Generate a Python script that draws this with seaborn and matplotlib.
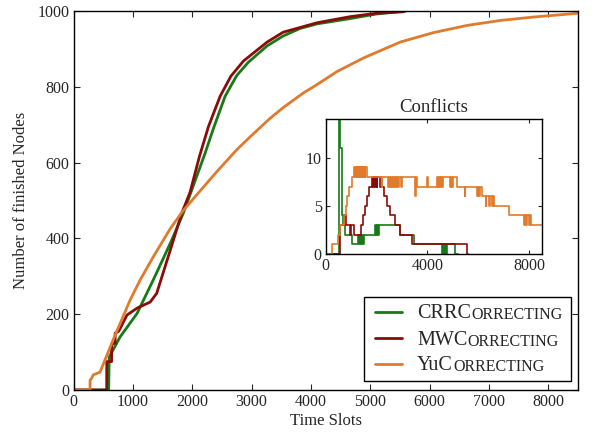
import matplotlib
matplotlib.use("Agg")
import matplotlib.pyplot as plt
from matplotlib.lines import Line2D
from matplotlib.patches import Rectangle
import seaborn as sns

# finished nodes over time (main plot)
crr_t = [0, 590, 600, 783, 1069, 1341, 1629, 1850, 2216, 2356, 2553, 2750, 2946,
         3261, 3531, 3818, 4104, 4661, 5100, 5600]
crr_v = [0, 0, 87, 140, 202, 290, 387, 467, 625, 690, 775, 830, 865,
         908, 934, 954, 966, 980, 992, 1000]

mw_t = [0, 558, 558, 640, 640, 700, 700, 760, 900, 1069, 1290, 1400, 1629, 1823,
        1963, 2120, 2272, 2469, 2650, 2862, 3261, 3531, 4104, 4661, 5100, 5560]
mw_v = [0, 0, 75, 75, 120, 124, 150, 155, 198, 216, 232, 255, 369, 467,
        522, 616, 695, 775, 828, 868, 918, 944, 969, 985, 994, 998]

yu_t = [0, 277, 277, 300, 330, 445, 665, 951, 1120, 1341, 1626, 1830, 2047, 2418,
        2750, 2975, 3312, 3531, 3874, 4104, 4436, 4885, 5504, 6065, 6634, 7190,
        7747, 8500]
yu_v = [0, 0, 26, 30, 40, 47, 132, 237, 290, 351, 425, 470, 510, 577,
        634, 668, 717, 745, 784, 806, 840, 876, 918, 943, 962, 975,
        984, 994]

# conflicts (inset), step values
crr_ct = [0, 540, 560, 640, 695, 762, 829, 1026, 1289, 1320, 1350, 1390, 1420, 1460,
          1490, 1947, 1980, 2010, 2060, 2090, 2934, 3460, 4579, 4610, 4650, 4690,
          4730, 4777, 5106, 5200]
crr_cv = [0, 25, 11, 4, 3, 2, 2, 1, 2, 1, 2, 1, 2, 1,
          2, 3, 2, 3, 2, 3, 2, 1, 0, 1, 0, 1,
          0, 1, 0, 0]

mw_ct = [0, 564, 735, 801, 960, 1000, 1105, 1380, 1460, 1540, 1620, 1720, 1830,
         1870, 1890, 1940, 1960, 2010, 2030, 2145, 2277, 2408, 2540, 2737, 2934,
         3395, 5560, 5600]
mw_cv = [0, 3, 4, 3, 2, 3, 2, 3, 4, 5, 6, 7, 8,
         7, 8, 7, 8, 7, 8, 7, 6, 5, 4, 3, 2,
         1, 0, 0]

yu_ct = [0, 235, 498, 564, 735, 801, 854, 933, 1026, 1117, 1160, 1180, 1230, 1250,
         1300, 1320, 1380, 1400, 1450, 1470, 1530, 1550, 1618, 2198, 2230, 2461,
         2500, 2540, 2580, 2620, 2660, 2700, 2740, 2780, 2820, 2860, 2900, 2950,
         3000, 3520, 3550, 3592, 3987, 4010, 4382, 4420, 4450, 4500, 4530, 4580,
         4610, 4908, 4940, 4980, 5010, 5172, 5462, 5490, 5961, 6000, 6050, 6090,
         6158, 6290, 6320, 6420, 6450, 6540, 6570, 6618, 7210, 7802, 7830, 7900,
         7930, 8000, 8030, 8066, 8500]
yu_cv = [0, 1, 2, 3, 4, 5, 6, 7, 8, 9, 8, 9, 8, 9,
         8, 9, 8, 9, 8, 9, 8, 9, 8, 7, 8, 7,
         8, 7, 8, 7, 8, 7, 8, 7, 8, 7, 8, 7,
         8, 6, 8, 7, 8, 7, 8, 7, 8, 7, 8, 7,
         8, 7, 8, 7, 8, 7, 6, 7, 6, 7, 6, 7,
         6, 5, 6, 5, 6, 5, 6, 5, 4, 3, 4, 3,
         4, 3, 4, 3, 3]

# legend names: capital prefix + "Correcting" in small caps
prefixes = ["CRRC", "MWC", "YuC"]
colors = ["#167a16", "#8b0a0a", "#e07a2c"]

sns.set_style("ticks")
plt.rcParams["font.family"] = ["Liberation Serif", "DejaVu Serif"]
plt.rcParams["axes.edgecolor"] = "black"
plt.rcParams["axes.linewidth"] = 1.0

fig = plt.figure(figsize=(5.98, 4.36), dpi=100)
ax = fig.add_axes([0.1231, 0.1055, 0.8435, 0.8693])

for t, v, c in zip([crr_t, mw_t, yu_t], [crr_v, mw_v, yu_v], colors):
    sns.lineplot(x=t, y=v, ax=ax, color=c, lw=2.0, estimator=None, sort=False)

ax.set_xlim(0, 8500)
ax.set_ylim(0, 1000)
ax.set_xticks(range(0, 9000, 1000))
ax.set_yticks(range(0, 1200, 200))
ax.set_xlabel("Time Slots", fontsize=12, labelpad=2)
ax.set_ylabel("Number of finished Nodes", fontsize=12, labelpad=6)
ax.tick_params(direction="in", top=True, right=True, length=4, width=0.8,
               labelsize=11.5, pad=3)

# hand-made legend so the "Correcting" part can be in small caps
ax.add_patch(Rectangle((0.5757, 0.0237), 0.4107, 0.2217, transform=ax.transAxes,
                       facecolor="white", edgecolor="black", lw=1.0, zorder=5))
line_y = [0.206, 0.137, 0.069]
for i, (p, c) in enumerate(zip(prefixes, colors)):
    ax.add_line(Line2D([0.597, 0.652], [line_y[i]] * 2, transform=ax.transAxes,
                       color=c, lw=2.0, zorder=6))
    big = ax.text(0.681, line_y[i] - 0.017, p, transform=ax.transAxes,
                  fontsize=14.5, va="baseline", ha="left", zorder=6)
    ax.annotate("ORRECTING", xy=(1, 0), xycoords=big, fontsize=11.5,
                va="bottom", ha="left", zorder=6)

# inset with conflicts
ins = fig.add_axes([0.5447, 0.4174, 0.3612, 0.3096])
for t, v, c in zip([crr_ct, mw_ct, yu_ct], [crr_cv, mw_cv, yu_cv], colors):
    sns.lineplot(x=t, y=v, ax=ins, color=c, lw=1.2, estimator=None, sort=False,
                 drawstyle="steps-post")
ins.set_xlim(0, 8500)
ins.set_ylim(0, 14)
ins.set_xticks([0, 4000, 8000])
ins.set_yticks([0, 5, 10])
ins.set_title("Conflicts", fontsize=13.5, pad=5)
ins.tick_params(direction="in", top=True, right=True, length=3, width=0.8,
                labelsize=11.5, pad=3)

fig.savefig("out.png", dpi=100)
